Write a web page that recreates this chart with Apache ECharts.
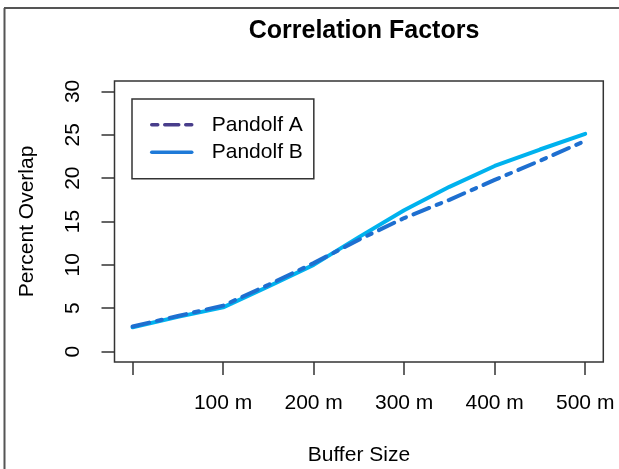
<!DOCTYPE html>
<html>
<head>
<meta charset="utf-8">
<script src="https://cdn.jsdelivr.net/npm/echarts@6/dist/echarts.min.js"></script>
<style>
  html, body { margin: 0; padding: 0; background: #fff; }
  #main { width: 619px; height: 469px; }
</style>
</head>
<body>
<div id="main"></div>
<script>
// buffer sizes (m) and overlap values
var bufferSize = [0, 50, 100, 150, 200, 250, 300, 350, 400, 450, 500];
var pandolfA = [2.9, 4.1, 5.3, 7.7, 10.2, 12.9, 15.4, 17.5, 19.8, 22.0, 24.3];
var pandolfB = [2.8, 4.0, 5.1, 7.5, 10.0, 13.2, 16.3, 19.0, 21.4, 23.3, 25.1];
var xTicks = [0, 100, 200, 300, 400, 500];
var xLabels = [100, 200, 300, 400, 500];
var yTicks = [0, 5, 10, 15, 20, 25, 30];

function pairs(xs, ys) {
  return xs.map(function (x, i) { return [x, ys[i]]; });
}

var font = 'Liberation Sans, Arial, sans-serif';
var chart = echarts.init(document.getElementById('main'));

chart.setOption({
  backgroundColor: '#fff',
  animation: false,
  title: {
    text: 'Correlation Factors',
    left: 359,
    top: 14,
    textAlign: 'center',
    textStyle: { fontFamily: font, fontSize: 25, fontWeight: 'bold', color: '#000' }
  },
  grid: {
    left: 114.5, right: 15.7, top: 81, bottom: 107,
    outerBoundsMode: 'none',
    show: true, borderColor: '#333', borderWidth: 1.5, backgroundColor: '#fff'
  },
  legend: {
    orient: 'vertical',
    left: 132, top: 99,
    padding: [15.3, 11, 16, 18],
    itemWidth: 40, itemHeight: 14, itemGap: 6.4,
    borderColor: '#333', borderWidth: 1.5, borderRadius: 0,
    backgroundColor: '#fff',
    textStyle: { fontFamily: font, fontSize: 21, color: '#000', padding: [0, 0, 0, 15] },
    data: [
      { name: 'Pandolf A', itemStyle: { color: 'transparent', borderWidth: 0, opacity: 0 },
        lineStyle: { color: '#483d8b', width: 3.5, type: [6, 7, 14, 7] } },
      { name: 'Pandolf B', itemStyle: { color: 'transparent', borderWidth: 0, opacity: 0 },
        lineStyle: { color: '#1e7ad8', width: 3.5, type: 'solid' } }
    ]
  },
  xAxis: {
    type: 'value', min: -20, max: 520,
    name: 'Buffer Size', nameLocation: 'middle', nameGap: 83, nameMoveOverlap: false,
    nameTextStyle: { fontFamily: font, fontSize: 21, color: '#000' },
    axisLine: { show: false, onZero: false },
    splitLine: { show: false },
    axisTick: { show: true, inside: false, length: 13, customValues: xTicks, lineStyle: { color: '#333', width: 1.5 } },
    axisLabel: {
      customValues: xLabels, margin: 31,
      fontFamily: font, fontSize: 21, color: '#000',
      formatter: function (v) { return v + ' m'; }
    }
  },
  yAxis: {
    type: 'value', min: -1.2, max: 31.2,
    name: 'Percent Overlap', nameLocation: 'middle', nameGap: 77, nameMoveOverlap: false,
    nameTextStyle: { fontFamily: font, fontSize: 21, color: '#000' },
    axisLine: { show: false, onZero: false },
    splitLine: { show: false },
    axisTick: { show: true, inside: false, length: 13, customValues: yTicks, lineStyle: { color: '#333', width: 1.5 } },
    axisLabel: {
      customValues: yTicks, margin: 31, rotate: 90,
      fontFamily: font, fontSize: 21, color: '#000'
    }
  },
  series: [
    {
      name: 'Pandolf A', type: 'line', symbol: 'none',
      data: pairs(bufferSize, pandolfA),
      lineStyle: { color: '#1e6fd0', width: 4, type: [17, 8, 5, 8], cap: 'round' },
      itemStyle: { color: '#1e6fd0' },
      z: 3
    },
    {
      name: 'Pandolf B', type: 'line', symbol: 'none',
      data: pairs(bufferSize, pandolfB),
      lineStyle: { color: '#00b2ee', width: 4, cap: 'round' },
      itemStyle: { color: '#00b2ee' },
      z: 2
    }
  ],
  graphic: [
    // outer frame seen at the top and left edges of the picture
    { type: 'line', shape: { x1: 4, y1: 8, x2: 619, y2: 8 }, style: { stroke: '#555', lineWidth: 2 } },
    { type: 'line', shape: { x1: 4.5, y1: 8, x2: 4.5, y2: 469 }, style: { stroke: '#555', lineWidth: 2 } }
  ]
});
</script>
</body>
</html>
